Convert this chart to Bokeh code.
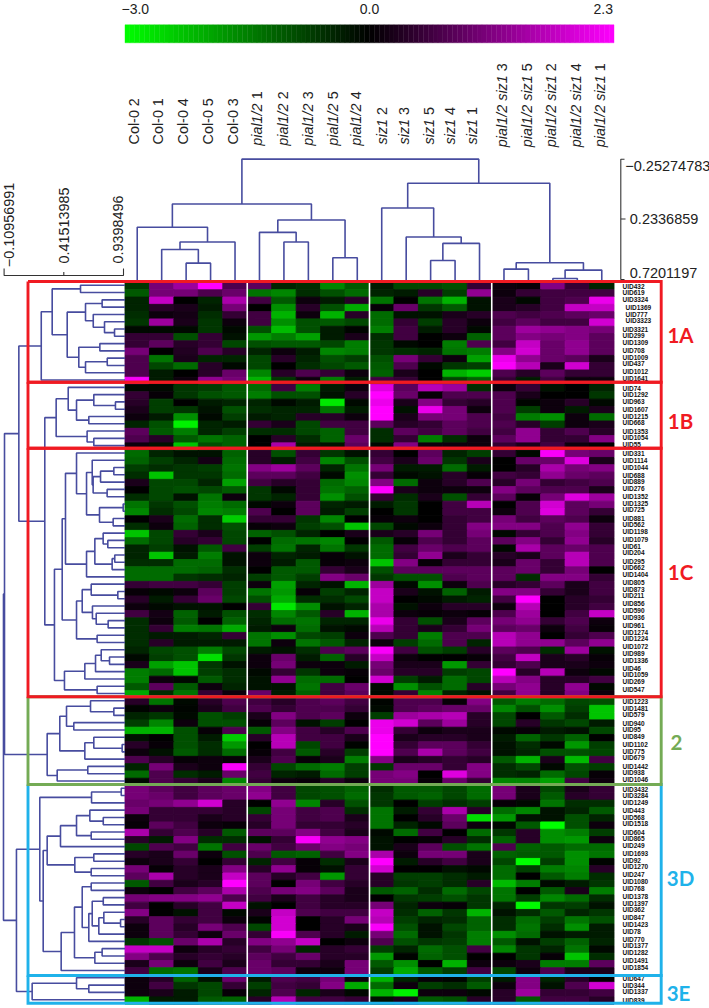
import math
from bokeh.plotting import figure
from bokeh.models import Range1d, ColumnDataSource
from bokeh.core.properties import value
from bokeh.embed import file_html
from bokeh.resources import INLINE

col_geno = ["Col-0"] * 5 + ["pial1/2"] * 5 + ["siz1"] * 5 + ["pial1/2 siz1"] * 5
col_rep = [2, 1, 4, 5, 3, 1, 2, 3, 5, 4, 2, 3, 5, 4, 1, 3, 5, 2, 4, 1]

uid_1A = ["UID432","UID619","UID3324","UID1369","UID777","UID3323","UID3321","UID299","UID1309","UID708","UID1009","UID437","UID1012","UID1641"]
uid_1B = ["UID74","UID1292","UID963","UID1607","UID1215","UID668","UID1353","UID1054","UID55"]
uid_1C = ["UID331","UID1114","UID1044","UID688","UID889","UID276","UID1352","UID1325","UID725","UID881","UID562","UID1198","UID1079","UID61","UID204","UID295","UID662","UID1404","UID805","UID873","UID211","UID856","UID590","UID936","UID961","UID1274","UID1224","UID1072","UID989","UID1336","UID46","UID1059","UID269","UID547"]
uid_2 = ["UID1223","UID1481","UID579","UID940","UID95","UID849","UID1102","UID775","UID679","UID1442","UID938","UID1046"]
uid_3D = ["UID3432","UID3284","UID1249","UID443","UID568","UID1518","UID604","UID865","UID249","UID1693","UID92","UID1270","UID247","UID1080","UID768","UID1378","UID1397","UID362","UID847","UID1423","UID78","UID770","UID1377","UID1282","UID1491","UID1854"]
uid_3E = ["UID647","UID344","UID1337","UID839"]

vals_1A = [
 [-.6,.9,1.2,2.2,.6,.7,-.4,-.5,-1.5,-1.0,-.3,-.8,-.8,-.9,.4,.1,.05,1.0,.4,-.4],
 [-1.0,.9,.9,.6,.8,-1.3,-1.5,-.5,-.9,-1.2,-.4,-.3,.3,-.7,1.1,.1,.4,.5,.5,.5],
 [-.4,1.5,0,-.4,1.3,.5,-1.0,.1,-.3,.3,-1.3,0,-1.3,-2.0,-.2,.2,-.1,.5,.6,1.8],
 [-.4,.3,.2,-.3,.9,0,-1.6,.3,-.9,-1.9,.05,.8,-.6,-1.0,-.2,.2,.3,.5,1.5,1.5],
 [-.5,.1,.15,-.5,.4,.5,-2.0,.1,-2.0,.3,-1.2,-.2,-.2,.2,.3,.6,.5,.6,.7,.8],
 [-.6,1.2,.2,-.6,.1,.5,-1.6,-.9,-1.0,-.8,-1.2,.4,-.7,.3,.1,.5,.7,.5,.5,1.6],
 [-.1,-.1,-.1,-.6,-.1,-.9,-2.1,-.9,-.3,-.05,-1.4,.5,-.3,.3,-.1,.7,1.2,1.1,1.0,.9],
 [.4,.4,-.9,.4,-.2,-1.7,-1.4,-1.8,-.3,.2,-.5,.5,0,.1,-1.1,.7,1.0,.9,1.0,.7],
 [.4,.7,.3,.4,-.8,-.9,-1.0,-1.0,-.8,-1.4,-.6,-.1,0,-1.4,.6,.5,1.5,.8,1.1,.7],
 [.9,0,.25,.6,.3,-.4,.1,-.3,-1.5,-1.4,-.6,-.5,-.4,-1.3,-1.4,1.0,1.6,.8,1.1,.7],
 [.6,-1.3,.2,-.4,-.4,-.8,.3,-.4,-.9,-.7,-.9,.9,.4,.1,-1.8,1.8,1.1,.8,.7,.2],
 [.6,-.8,-1.2,.3,-.1,-.8,0,-.5,-.8,-1.0,-1.0,.6,-.1,-.6,-.7,1.9,1.4,.2,1.6,.4],
 [.6,-.3,0,.3,.8,-1.5,.3,.6,.4,.1,-1.1,.2,0,-2.0,-2.3,.6,.3,.7,.4,.4],
 [1.9,-.3,.1,1.1,.9,-2.0,-.6,.1,-1.4,-.3,.5,.4,0,-.8,-1.1,.4,-.3,.5,.1,.1],
]
vals_1B = [
 [-.1,-.1,-.6,-.7,-1.0,-1.2,.5,-1.4,-.3,.1,1.7,.7,1.4,1.2,-.5,.1,.4,-.2,0,-.4],
 [.4,.05,-.6,-.9,-1.0,-1.4,-.9,-.9,-.2,.3,2.2,.8,.05,.6,.6,.6,.2,0,0,-.6],
 [.3,-.7,0,-.3,-.4,-.4,-.1,-.3,-2.6,-.1,1.8,.2,1.0,.4,.3,.6,-.05,.1,.3,-.1],
 [.2,-.7,-.6,-.2,-.9,-.5,-.4,-.4,-1.3,-.3,2.3,-.2,1.8,.9,.1,.6,-.7,.1,-.3,.2],
 [.1,-.3,-1.6,-.1,-.7,-.3,-.4,.3,.3,.1,2.2,.2,.9,.9,.6,.5,-1.4,-1.6,.1,-1.2],
 [-.4,-.9,-2.7,-.4,-.3,.4,.2,-.8,.5,.5,.7,.3,.4,.7,.6,.6,.3,-.7,.1,.2],
 [.7,-1.0,-1.4,-.4,-.7,-.5,-.5,-.8,-1.1,.5,-.5,.7,.5,.7,.5,.5,1.1,.4,.6,.3],
 [.6,.3,-1.0,-1.3,-1.1,0,.3,-.5,-1.1,.8,-.5,.4,-1.4,-.5,.1,.7,1.1,.4,.4,1.0],
 [.1,-.2,-2.2,-.9,-1.1,0,1.3,-.3,-.2,.7,-.1,1.0,.1,.1,.1,.4,.2,.5,.1,0],
]
vals_1C = [
 [-1.2,-.4,-.2,-.2,-1.1,.3,-.9,.4,-.6,-.2,.4,0,.7,-.4,-.7,.4,-.1,1.9,.9,.8],
 [-1.1,-.7,-.4,.15,-1.2,.3,-.3,.5,-1.5,-.9,.5,.2,.8,-.6,.2,0,.8,.8,1.7,.2],
 [-.7,-.5,-.6,-.7,-1.3,1.0,1.2,.7,-.4,-1.3,.9,-.3,-.3,-1.2,-.3,0,.3,1.3,.9,1.0],
 [-.5,-2.2,-.6,-.6,-1.2,.7,.7,.5,-.1,-1.6,.4,-.1,-.2,.3,.05,.5,.4,1.1,.8,.7],
 [.2,-.8,-.8,-.4,-1.8,.5,.3,.4,-1.2,-1.5,1.0,-1.2,.1,.3,.6,.3,.9,.4,.5,.6],
 [0,-.8,-.9,-.8,-1.0,-.6,-.1,.4,-1.3,-1.1,2.2,.2,.1,.1,.1,1.0,.7,.6,.6,.2],
 [-.5,-.8,-.2,-1.3,.1,-.6,-.4,.4,-1.6,-.9,.4,-.5,.2,-.9,.4,.7,.05,.9,1.7,1.2],
 [-1.3,-.6,-.9,-1.4,-1.2,-.1,.1,.7,-.4,-.3,-.3,-.6,0,.5,1.4,0,.6,1.6,.7,.9],
 [-1.5,-.5,-.8,-1.5,-1.4,.6,0,.7,-.3,-.7,0,-.6,0,.5,.5,.1,.6,1.7,.7,.4],
 [0,.2,-1.2,-.5,-2.3,.4,.4,-.6,-1.5,0,.05,.1,0,.4,.5,.9,.5,.7,.6,.1],
 [-.5,.1,-1.1,-.5,-.9,.05,.1,-.7,-.9,-2.2,-.8,-.1,.1,.4,1.0,1.0,1.0,.6,1.1,.4],
 [-2.2,-.8,.4,.2,-.8,-1.1,-.9,-.4,0,.2,.2,.3,.9,.4,.9,-.1,.4,.6,1.0,.4],
 [-1.2,-.8,.3,.4,-.8,0,-1.2,-1.3,-1.5,0,-1.0,.05,.6,.4,.7,.7,1.0,.4,1.1,.3],
 [-.4,-.7,-.2,-1.0,.5,-.7,-1.3,-.4,-1.3,-.6,-1.2,.5,.8,.6,.7,-.1,1.3,.7,.8,.6],
 [-.4,-2.2,-.3,-1.4,-.2,.1,-.4,-.3,.05,-.2,-1.2,.4,1.1,.2,.4,.3,.2,.7,1.4,.6],
 [-.5,-.5,-1.2,-1.2,-.2,.1,-.3,-1.0,.05,.1,-2.2,1.0,.05,.4,.4,.2,.8,.4,1.4,.6],
 [-1.2,-1.2,-1.2,-1.1,-.5,0,-1.0,-1.0,.4,.2,-.9,.7,.7,.7,.7,.7,.8,.4,.9,0],
 [-1.2,-1.2,-.6,-.5,-.4,-.7,-1.0,-.7,1.0,.8,-.6,-.9,-.9,.6,.7,.7,-.5,1.0,1.0,.4],
 [.4,.5,.5,.4,-.7,.1,-1.8,-.4,-.2,-2.0,1.2,-.1,-1.6,.1,.6,.3,.4,.7,.2,.5],
 [.05,-.1,.1,.7,-.7,-1.3,-1.7,.05,-.7,-.4,1.5,.2,-.2,-1.1,-.3,1.0,1.0,.4,.2,.5],
 [.3,-.3,.4,.8,-.8,-.9,-1.9,-.5,-.5,-.8,1.5,0,-.1,-.3,-.4,.5,2.3,0,.3,.4],
 [.1,-.1,-.2,-.2,0,.4,-2.6,-1.6,-.2,-.4,1.3,-.2,.1,.3,.3,.1,1.4,0,.3,.5],
 [.5,.15,-1.1,-.3,-.9,-.5,-1.5,-1.0,.3,-2.0,1.3,.1,.05,.1,.05,.6,1.2,0,.5,1.5],
 [-.5,.1,-1.0,0,-1.1,-.4,-1.2,-1.3,-.4,-.4,1.8,.4,-.9,.2,.7,.9,1.1,.4,.6,.1],
 [-.5,.4,-1.4,-1.3,-1.9,-.3,.1,-1.2,-.2,-.1,1.4,.4,.2,.4,.9,.7,.8,.1,.5,.05],
 [-.5,-.3,-.3,-.4,.4,-1.3,-1.6,-.8,-.7,.1,.6,.4,-1.4,.6,.6,1.4,1.1,0,.4,.6],
 [-.5,.3,-.3,-.3,-.3,-1.3,.1,-1.3,-1.0,-.4,.1,-.7,-1.2,.6,-.4,1.4,1.1,1.1,.7,1.1],
 [-.4,-.8,-.9,-1.4,-.8,-.3,-.2,-.5,.6,.7,1.9,.5,-.9,-.7,.3,.7,.6,-.5,1.2,-.2],
 [-.1,-.7,-.9,-2.5,-.6,.1,.8,-.3,-1.1,.3,1.5,.1,0,0,.05,.5,1.5,.2,.3,.05],
 [.2,-1.8,-2.2,-.6,-.2,.1,.9,.1,.1,-.3,.9,.2,.2,-1.7,.4,.4,.6,.2,.2,.1],
 [-1.4,-1.2,-2.2,-.7,-.5,-.1,.4,-.6,.1,.05,.8,.3,.3,-.7,-.8,2.0,.3,1.4,.1,-.1],
 [-1.4,.1,-.1,-1.0,-.5,-.2,1.1,-1.2,-1.2,0,1.6,-.7,-.3,-1.2,-.8,1.4,1.0,.3,.3,.5],
 [-1.0,.7,-1.0,.1,-.4,-.2,-.2,-1.3,.5,.8,-.1,-1.6,-.9,-1.2,.3,.9,1.1,.3,1.1,-.1],
 [-1.9,-.5,-1.3,.4,.1,.8,-.3,-1.1,.5,.7,-.1,.4,-1.5,-.4,-.2,.5,1.1,.3,1.0,.1],
]
vals_2 = [
 [.3,-1.3,-.1,.3,.6,.5,.3,.6,.7,.5,-.05,.6,.6,.05,1.0,-1.0,-1.4,-1.2,-.8,-.9],
 [-.05,.1,-.05,.2,.5,.6,.4,.6,.6,.4,-.1,.6,.7,.8,.8,-1.5,-.9,-1.6,-.7,-2.2],
 [-.4,-.6,-.1,-.9,-.7,.2,1.0,.6,.7,.1,-.7,1.2,1.3,1.4,.3,-.8,0,-1.0,-.5,-2.2],
 [-.7,-1.5,.1,-.9,-.9,.05,.7,-.2,-.7,0,1.8,1.6,.7,1.2,.3,-.8,.3,-.6,-.8,-.3],
 [-2.0,-2.0,-.9,.05,.6,-1.0,1.0,.5,.3,.6,1.8,.4,.1,.2,.2,-.1,.05,-.3,-.2,-.8],
 [-.2,0,-.9,-.3,-2.3,.3,1.4,.5,.5,.2,2.3,.2,.3,.3,.2,-.3,-1.1,-.6,-1.1,0],
 [.3,.05,-.9,-.5,-1.7,0,1.4,-.8,.5,-.05,2.3,.4,.7,.7,.4,-.2,-.5,-.1,-1.7,-.7],
 [.1,-.2,-1.0,-.5,-1.2,.05,.5,-1.0,.3,-.7,2.2,.6,1.3,.7,.5,-.2,-.4,-.9,-.9,-.8],
 [.6,.3,.05,.1,.05,.2,.6,.05,.2,-1.4,1.0,.2,.3,.4,.3,-1.0,-2.0,.2,-2.1,.5],
 [-.4,.9,.2,.1,1.9,.4,-.8,-1.2,-1.4,-.7,-.6,.8,.8,.4,1.0,-.5,-.8,-.1,-.9,-.7],
 [-1.2,.6,-.5,-.3,.8,.5,-.4,-.3,-1.2,-.7,.9,1.0,0,1.7,1.0,-.5,-.4,-1.2,-.8,.05],
 [-.1,.6,.4,.2,-1.5,.4,.1,.05,.3,.1,.9,.9,.05,.8,.4,-1.5,-1.5,-1.8,.5,.1],
]
vals_3D = [
 [.9,.7,.5,.7,.8,1.0,.5,-.8,-.9,-1.1,-.5,-1.0,-1.0,-.8,-1.2,.9,.2,-.8,.2,.4],
 [.9,.8,.5,.7,.8,1.1,.5,-.8,-.9,-1.2,-.6,-1.0,-1.1,-.8,-1.2,.9,.2,-1.0,.3,.4],
 [.8,.9,1.1,1.6,.3,0,1.1,-1.5,.3,-.9,-.6,0,-.7,-.5,-.7,.05,-.1,-1.3,-.5,-.5],
 [.9,.4,.4,.4,.3,-.8,.9,.5,.6,-.5,-1.3,-.3,.4,1.3,.3,-1.2,-1.5,-.2,-.4,-1.0],
 [.1,.4,.4,.2,.3,.4,.9,.5,.6,.2,-1.3,0,.3,.8,-2.5,-1.7,-.2,-.2,-.9,-.4],
 [.05,.7,.5,.1,.05,.3,.9,.4,.4,.3,-1.3,-.4,-.1,.7,.1,-.1,-1.0,-2.9,-.9,.1],
 [1.3,.4,.6,.3,-1.0,.7,.7,1.0,.5,.2,-.1,-1.2,.5,0,-1.2,-.6,.3,-1.6,-1.4,-.7],
 [.3,-.3,1.0,-.5,-.5,-.2,.4,1.9,1.1,1.0,-.2,0,.05,.3,-.5,-1.1,.3,-1.6,-1.7,.1],
 [-.8,.6,.5,-1.3,.5,.8,.5,.8,1.0,.9,-.2,.2,.7,-.9,-1.3,.6,-1.1,-1.0,-1.2,-1.2],
 [.3,.2,.8,.1,-.9,.6,-1.0,-1.1,.5,1.0,1.3,.1,.9,.9,.2,-1.1,-1.0,-1.0,-1.6,-1.3],
 [.1,.2,.4,0,.4,-.4,.5,.05,-.5,.2,2.3,-.3,.3,.5,.2,-.8,-2.9,-.7,-1.6,-.05],
 [.9,.05,.3,.2,1.0,.3,1.1,.05,-.2,.4,1.6,0,0,-.2,-.1,-1.2,-.7,-1.4,-1.5,.3],
 [.7,1.3,.3,.2,1.5,.7,.3,.5,-1.7,.4,.3,-.7,-.7,-.5,-.3,-1.2,0,-1.0,-1.4,-.5],
 [-1.0,.5,.2,.3,2.0,.7,0,.9,.5,.3,.3,-.6,-.7,-.5,.3,-2.1,-1.4,-.1,-.3,-.6],
 [.1,0,.5,.7,1.3,.6,.9,1.0,.7,.2,-1.0,-1.1,-.5,-1.2,-.8,-1.3,0,-1.0,.2,-1.4],
 [.9,1.0,1.0,1.1,.6,.5,.2,.5,.3,.2,0,-.6,-.7,-.9,-.6,-1.3,-.7,-1.5,-1.2,-.5],
 [.5,0,.3,.5,1.5,-.2,0,.5,.3,.3,.9,-.4,.1,.05,-.6,-.4,-2.8,-.6,-.7,-.2],
 [1.0,0,-.2,.5,-.1,.2,1.5,.6,.5,.5,1.5,-.5,-1.1,-.6,-2.0,-.2,-.5,-1.0,-.4,-.6],
 [.3,.7,.4,.5,.1,-.05,1.6,0,.3,.9,1.4,-.7,-.4,-.5,-1.1,-.5,-1.2,-.7,-1.3,-.9],
 [.1,.7,.3,.9,.6,-.8,1.6,0,.3,.2,1.9,-.9,-.2,-.8,-1.1,-.5,-1.3,-.5,-1.6,-.3],
 [.1,.7,.4,.1,.8,.4,1.9,.6,.3,-.3,.9,-1.2,-.2,-.6,-1.4,-1.6,-1.2,-.2,-.3,-.3],
 [-.6,-.9,.8,1.3,.3,1.0,1.1,1.5,0,.1,.6,-.9,-.6,-.7,-1.4,-1.0,-.2,-.7,-1.1,-.4],
 [1.5,1.5,.1,.3,.4,.5,.9,-.4,.3,.4,-.7,-.4,-1.2,-.9,.5,-1.5,-.6,-.4,-1.3,-.1],
 [1.0,.6,.3,.4,.3,.7,.5,.8,.3,.3,-1.7,-.05,-1.1,-.9,0,0,-.6,.05,-2.2,-.5],
 [.2,.9,.1,.5,.2,.8,.4,.4,.2,.9,-1.0,-1.6,0,-2.0,.1,.1,.2,-1.4,-1.4,.7],
 [.5,-1.2,-1.3,.2,.6,.8,.7,.1,.1,.9,-.7,-1.9,-1.0,-.7,.5,-.8,.1,.6,.2,.2],
]
vals_3E = [
 [.1,.3,-1.1,-.2,.8,-.3,.6,.5,.9,.1,-2.0,-.4,.05,-.05,-.7,-.3,1.0,-.4,.3,0],
 [.1,.5,-.6,-.8,.4,-.7,.5,.4,1.0,-1.9,-1.2,.1,-.7,-.5,-1.0,.1,1.0,-.2,.6,1.6],
 [.1,.2,-.3,-.8,.05,-.4,.6,-.4,.2,-.1,-2.0,-2.7,.1,.1,-.1,.3,1.2,.4,.4,.5],
 [-2.0,-.3,-.3,-1.0,-1.1,.3,1.4,.5,.5,.4,-.2,.2,-1.0,-.9,.3,.3,-1.0,.5,.5,.3],
]

# dendrogram merges: (merge height, child, child); plain integers are leaves
col_tree = (-.253, (.109, (.298, 0, (.417, (.477, 1, (.588, 2, 3)), 4)),
                    (.239, (.339, 5, (.417, 6, 7)), (.544, 8, 9))),
            (-.058, (.142, 10, (.377, 11, (.428, (.566, 12, 13), 14))),
             (.585, (.636, 15, 16), (.644, (.712, 17, 18), 19))))

tree_1A = (.217, (.313, (.562, 0, 1),
                  (.445, (.606, (.752, 2, 3), (.674, 4, (.773, 5, (.861, 6, 7)))),
                   (.547, (.732, 8, 9), (.606, (.797, 10, 11), 12)))), 13)
tree_1B = (.348, (.454, 14, (.527, (.679, 15, (.869, 16, 17)), (.635, 18, 19))),
           (.620, 20, (.679, 21, 22)))
tree_1C = (.333,
           (.401,
            (.430,
             (.527, 23, (.615, (.665, 24, (.673, (.738, (.855, 25, 26), 27), (.796, 28, 29))),
                         (.729, (.937, 30, 31), (.849, 32, 33)))),
             (.615, (.688, (.761, 34, (.802, 35, 36)), (.840, (.863, 37, 38), 39)), 40)),
            (.527, (.577, (.656, 41, (.890, 42, 43)), (.667, 44, (.700, 45, (.805, 46, 47)))),
             (.708, 48, 49))),
           (.421, (.600, (.694, (.744, 50, (.817, 51, 52)), 53), 54), (.708, 55, 56)))
tree_2 = (.269,
          (.380, (.439, (.650, 57, (.855, 58, 59)), (.503, 60, 61)),
           (.600, (.679, 62, (.928, 63, 64)), 65)),
          (.357, (.626, 66, 67), 68))
tree_3D = (.204, (.659, (.920, 69, 70), 71),
           (.234,
            (.269, (.386, (.527, (.644, 72, (.762, 73, 74)), (.656, 75, 76)), 77),
             (.512, (.679, 78, 79), (.656, 80, 81))),
            (.392,
             (.509, (.577, (.656, 82, 83),
                     (.635, (.665, (.762, 84, 85), (.723, (.767, 86, (.914, 87, 88)), 89)), 90)),
              (.688, (.752, 91, 92), 93)), 94)))
tree_3E = (.137, (.527, 95, (.635, 96, 97)), 98)
row_tree = (-.115, (-.106, (.020, tree_1A, (.248, tree_1B, tree_1C)), tree_2),
            (-.001, tree_3D, tree_3E))

col_ticks = [-0.25274783, 0.2336859, 0.7201197]
row_ticks = [-0.10956991, 0.41513985, 0.9398496]
bar_ticks = [-3.0, 0.0, 2.3]

# ---------- layout (page pixels) ----------
W, H = 709, 1008
HM_L, HM_T = 124.5, 282.0
CW, RH = 24.45, 7.29
NAVY = "#474c9f"
FONT = value("Liberation Sans")
GAIN_POS, GAIN_NEG = 1.18, 1.05  # brightness correction of the estimated cell values


def heat(v):
    if v < 0:
        return "#00%02x00" % int(round(min(-v / 3.0, 1) * 255))
    m = int(round(min(v / 2.3, 1) * 255))
    return "#%02x00%02x" % (m, m)


p = figure(width=W, height=H, output_backend="svg", toolbar_location=None,
           x_axis_type=None, y_axis_type=None, min_border=0,
           x_range=Range1d(-HM_L / CW, (W - HM_L) / CW),
           y_range=Range1d((H - HM_T) / RH, -HM_T / RH))
p.outline_line_color = None
p.grid.visible = False
p.background_fill_color = "white"
p.styles = {"position": "absolute", "left": "0px", "top": "0px"}

p.extra_x_ranges["px"] = Range1d(0, W)
p.extra_y_ranges["px"] = Range1d(H, 0)
# dendrogram height scales: defined by the printed ticks and their page positions
cy = lambda py: col_ticks[0] + (py - 158.7) * (col_ticks[2] - col_ticks[0]) / (279.0 - 158.7)
p.extra_y_ranges["col_h"] = Range1d(cy(H), cy(0))
rx = lambda px: row_ticks[0] + (px - 3.6) * (row_ticks[2] - row_ticks[0]) / (123.0 - 3.6)
p.extra_x_ranges["row_h"] = Range1d(rx(0), rx(W))

# ---------- heat map ----------
blocks = [vals_1A, vals_1B, vals_1C, vals_2, vals_3D, vals_3E]
xs, ys, cs = [], [], []
r = 0
for blk in blocks:
    for row in blk:
        for c, v in enumerate(row):
            xs.append(c + .5)
            ys.append(r + .5)
            cs.append(heat(v * (GAIN_POS if v > 0 else GAIN_NEG)))
        r += 1
src = ColumnDataSource(dict(x=xs, y=ys, c=cs))
p.rect("x", "y", 1, 1, source=src, fill_color="c", line_color="c", line_width=0.9)

# group separators
for c in (5, 10, 15):
    p.line([c, c], [0, r], line_color="white", line_width=1.6)

# ---------- colour bar ----------
n = 100
bx, bc = [], []
for i in range(n):
    t = (i + .5) / n
    bx.append(t * 20)
    bc.append(heat(bar_ticks[0] * (1 - 2 * t) if t < .5 else bar_ticks[2] * (2 * t - 1)))
p.rect(bx, [33.3] * n, 20 / n, 18, y_range_name="px", fill_color=bc, line_color=bc, line_width=0.4)
p.text([121, 369, 612.5], [8.5, 8.5, 8.5], text=["\u22123.0", "0.0", "2.3"], x_range_name="px", y_range_name="px",
       text_font=FONT, text_font_size="14px", text_color="#222222", text_baseline="middle",
       text_align=["left", "center", "right"])


# ---------- dendrograms ----------
def walk(node, leaf_h, pos_of, segs):
    if isinstance(node, int):
        return pos_of(node), leaf_h
    h, a, b = node
    pa, ha = walk(a, leaf_h, pos_of, segs)
    pb, hb = walk(b, leaf_h, pos_of, segs)
    segs.append(((pa, pb), (ha, h, h, hb)))
    return (pa + pb) / 2, h


segs = []
walk(col_tree, cy(281), lambda i: i + .5, segs)
p.multi_line([[s[0][0], s[0][0], s[0][1], s[0][1]] for s in segs], [list(s[1]) for s in segs],
             y_range_name="col_h", line_color=NAVY, line_width=1.6)
segs = []
walk(row_tree, rx(124.5), lambda i: i + .38, segs)
p.multi_line([list(s[1]) for s in segs], [[s[0][0], s[0][0], s[0][1], s[0][1]] for s in segs],
             x_range_name="row_h", line_color=NAVY, line_width=1.6)

# ---------- column labels ----------
em = {"Col-0": 3.22 - .834, "pial1/2": 3.224, "siz1": 2.056, "pial1/2 siz1": 5.28}
base = {"Col-0": 144, "pial1/2": 145.3, "siz1": 144, "pial1/2 siz1": 146.7}
dx = [-3.3, -3.3, -3, -3, -2.5, -2, -1, -.5, 0, -1, 0, -2, -2, -5, -8, -1.7, -1.7, -1.7, -1.6, -1.6]
FS = 14.4
for style, kinds in (("normal", ("Col-0",)), ("italic", ("pial1/2", "siz1", "pial1/2 siz1"))):
    idx = [i for i, g in enumerate(col_geno) if g in kinds]
    p.text([i + .5 + dx[i] / CW for i in idx], [base[col_geno[i]] for i in idx],
           text=[col_geno[i] for i in idx], y_range_name="px", angle=math.pi / 2,
           text_font=FONT, text_font_size=f"{FS}px", text_font_style=style, text_color="#222222",
           text_align="left", text_baseline="middle")
p.text([i + .5 + dx[i] / CW for i in range(20)],
       [base[col_geno[i]] - (em[col_geno[i]] + (.278 if col_geno[i] == "Col-0" else 0)) * FS for i in range(20)],
       text=[str(v) for v in col_rep], y_range_name="px", angle=math.pi / 2,
       text_font=FONT, text_font_size=f"{FS}px", text_color="#222222",
       text_align="left", text_baseline="middle")

# ---------- dendrogram scale brackets ----------
AX = "#333333"
p.multi_line([[624, 620.3, 620.3, 624], [620.3, 625]], [[158.7, 158.7, 279, 279], [218.5, 218.5]],
             x_range_name="px", y_range_name="px", line_color=AX, line_width=1.1)
p.text([624.8, 629.3, 629.3], [165, 218.3, 272.7],
       text=["\u22120.25274783", "0.2336859", "0.7201197"], x_range_name="px", y_range_name="px",
       text_font=FONT, text_font_size="14.5px", text_color="#222222", text_baseline="middle")
p.multi_line([[3.6, 3.6, 123, 123], [63.3, 63.3]], [[268, 275, 275, 268], [271.5, 275]],
             x_range_name="px", y_range_name="px", line_color=AX, line_width=1.1)
p.text([8, 63.7, 117.5], [266.7, 263, 263],
       text=["\u22120.10956991", "0.41513985", "0.9398496"], x_range_name="px", y_range_name="px",
       angle=math.pi / 2, text_font=FONT, text_font_size="14.4px", text_color="#222222",
       text_align="left", text_baseline="middle")

# ---------- row labels ----------
lx, ly, lt = [], [], []
start = 0
for grp in (uid_1A, uid_1B, uid_1C, uid_2, uid_3D, uid_3E):
    c0 = HM_T + RH * (start + .5)
    for j, name in enumerate(grp):
        lx.append(625 if name in ("UID1369", "UID777", "UID3323") else 622)
        ly.append(c0 + 21.45 * (j // 3) + 6.6 * (j % 3))
        lt.append(name)
    start += len(grp)
p.text(lx, ly, text=lt, x_range_name="px", y_range_name="px", text_font=FONT,
       text_font_size="6.5px", text_font_style="bold", text_color="#111111", text_baseline="middle")

# ---------- cluster frames ----------
edges = [281, 381.7, 447.7, 696.3, 784, 975, 1002.7]
L, R = 27.5, 660.7
RED, GREEN, CYAN = "#f01a22", "#74ab55", "#1fb2ea"
for a, b, colr in ((4, 5, CYAN), (5, 6, CYAN), (3, 4, GREEN), (0, 1, RED), (1, 2, RED), (2, 3, RED)):
    p.line([L, R, R, L, L], [edges[a], edges[a], edges[b], edges[b], edges[a]], x_range_name="px",
           y_range_name="px", line_color=colr, line_width=2.9, line_join="miter")

names = ["1A", "1B", "1C", "2", "3D", "3E"]
p.text([680, 680, 680, 676, 680, 678], [334, 420, 571, 742, 877, 992], text=names, x_range_name="px",
       y_range_name="px", text_font=value("Lato"), text_font_style="bold", text_font_size="20.5px",
       text_color=[RED, RED, RED, GREEN, CYAN, CYAN], text_align="center", text_baseline="middle")

open("out.html", "w").write(file_html(p, INLINE))
